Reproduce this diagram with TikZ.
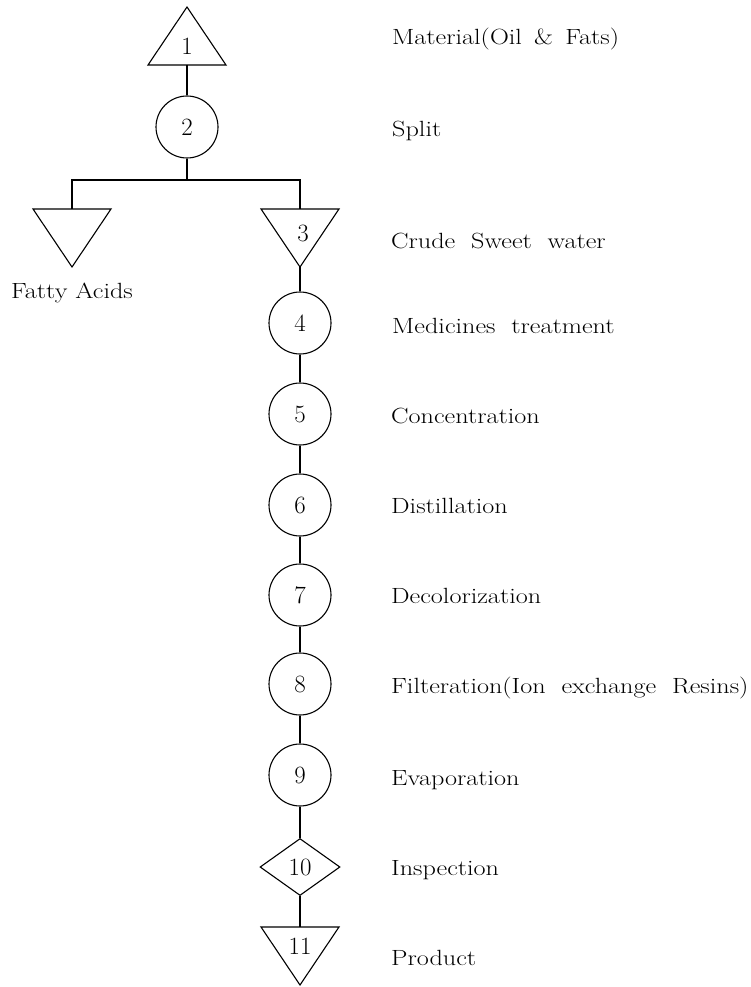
\documentclass[tikz,border=0pt]{standalone}
\usepackage{graphicx}
\usetikzlibrary{shapes.geometric}
\newcommand{\widetext}[1]{\scalebox{1.19}[1]{#1}}
\begin{document}
\begin{tikzpicture}[x=1pt,y=-1pt,
  ln/.style={line width=1.1pt},
  txt/.style={inner sep=0pt, font=\fontsize{22}{24}\selectfont},
  numtxt/.style={inner sep=0pt, font=\fontsize{24.88}{28}\selectfont},
  lbl/.style={txt, anchor=base west},
  circ/.style={ln, draw, circle, minimum size=62pt, inner sep=0pt, font=\fontsize{24.88}{28}\selectfont},
  dia/.style={ln, draw, diamond, minimum width=80pt, minimum height=57pt, inner sep=0pt, font=\fontsize{24.88}{28}\selectfont}]
\useasboundingbox (0,0) rectangle (750,987);
% triangle 1 (upward)
\coordinate (t1a) at (187,7);
\coordinate (t1l) at (148,65);
\coordinate (t1r) at (226,65);
\coordinate (t1b) at (187,65);
\draw[ln,line join=miter] (t1a) -- (t1l) -- (t1r) -- cycle;
\node[numtxt] (n1) at (187,46) {1};
% circle 2
\node[circ] (c2) at (187,127) {2};
\draw[ln] (t1b) -- (c2.north);
% split
\coordinate (j) at (187,180);
\coordinate (lt) at (72,209);
\coordinate (t3t) at (300,209);
\draw[ln] (c2.south) -- (j);
\draw[ln] (lt) |- (j) -| (t3t);
% left triangle (Fatty Acids)
\coordinate (lta) at (72,267);
\draw[ln,line join=miter] (33,209) -- (111,209) -- (lta) -- cycle;
\node[txt, anchor=base] (fa) at (72,298) {\widetext{Fatty Acids}};
% triangle 3
\coordinate (t3a) at (300,267);
\draw[ln,line join=miter] (261,209) -- (339,209) -- (t3a) -- cycle;
\node[numtxt] (n3) at (303,233) {3};
% circles
\node[circ] (c4) at (300,323) {4};
\node[circ] (c5) at (300,414) {5};
\node[circ] (c6) at (300,505) {6};
\node[circ] (c7) at (300,595) {7};
\node[circ] (c8) at (300,684) {8};
\node[circ] (c9) at (300,775) {9};
\node[dia] (d10) at (300,867) {10};
% triangle 11
\coordinate (t11t) at (300,927);
\draw[ln,line join=miter] (261,927) -- (339,927) -- (300,985) -- cycle;
\node[numtxt] (n11) at (300,946) {11};
% connectors
\draw[ln] (t3a) -- (c4.north);
\draw[ln] (c4.south) -- (c5.north);
\draw[ln] (c5.south) -- (c6.north);
\draw[ln] (c6.south) -- (c7.north);
\draw[ln] (c7.south) -- (c8.north);
\draw[ln] (c8.south) -- (c9.north);
\draw[ln] (c9.south) -- (d10.north);
\draw[ln] (d10.south) -- (t11t);
% labels
\node[lbl] (l1) at (392,45) {\widetext{Material(Oil \,\&\, Fats)}};
\node[lbl] (l2) at (392,137) {\widetext{Split}};
\node[lbl] (l3) at (391,248) {\widetext{Crude \ Sweet \ water}};
\node[lbl] (l4) at (392,333) {\widetext{Medicines \ treatment}};
\node[lbl] (l5) at (391,423) {\widetext{Concentration}};
\node[lbl] (l6) at (391,513) {\widetext{Distillation}};
\node[lbl] (l7) at (391,603) {\widetext{Decolorization}};
\node[lbl] (l8) at (391,693) {\widetext{Filteration(Ion \ exchange \ Resins)}};
\node[lbl] (l9) at (391,785) {\widetext{Evaporation}};
\node[lbl] (l10) at (391,875) {\widetext{Inspection}};
\node[lbl] (l11) at (391,965) {\widetext{Product}};
\end{tikzpicture}
\end{document}
